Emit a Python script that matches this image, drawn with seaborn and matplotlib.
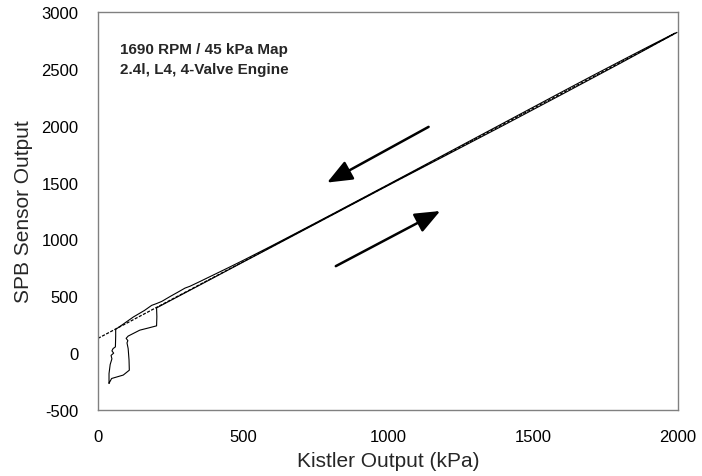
import matplotlib
matplotlib.use("Agg")
import matplotlib.pyplot as plt
import seaborn as sns
import pandas as pd

# Pressure trace: SPB sensor output vs. Kistler reference pressure (kPa)
# Compression stroke, starting at the bottom of the low-pressure loop
comp_kpa = [38, 47, 87, 108, 107, 104, 100, 103, 97, 104, 144, 175, 202, 203, 202,
            300, 400, 500, 600, 700, 800, 900, 1000, 1100, 1200, 1300, 1400, 1500,
            1600, 1700, 1800, 1900, 1990]
comp_spb = [-265, -223, -193, -150, -60, 40, 90, 110, 130, 150, 202, 222, 240, 320, 398,
            530, 665, 800, 934, 1069, 1204, 1339, 1474, 1607, 1740, 1873, 2006, 2141,
            2276, 2412, 2548, 2686, 2812]

# Expansion stroke, back down to the loop
exp_kpa = [1990, 1900, 1800, 1700, 1600, 1500, 1400, 1300, 1200, 1100, 1000, 900, 800,
           700, 600, 550, 500, 450, 400, 350, 317, 300, 276, 250, 220, 202, 185, 160,
           122, 87, 70, 61, 61, 60, 52, 48, 54, 45, 48, 42, 38, 38]
exp_spb = [2815, 2698, 2566, 2433, 2298, 2162, 2026, 1890, 1754, 1618, 1482, 1347, 1212,
           1078, 945, 880, 815, 752, 690, 628, 588, 572, 537, 500, 455, 436, 420, 375,
           318, 255, 225, 210, 150, 55, 40, 20, 0, -20, -50, -100, -180, -265]

# Linear trend line end points
trend_kpa = [0, 2000]
trend_spb = [130, 2825]

# Direction arrows: (tail, head)
arrow_down = ((1140, 1990), (790, 1500))
arrow_up = ((820, 765), (1180, 1250))

info_lines = ["1690 RPM / 45 kPa Map", "2.4l, L4, 4-Valve Engine"]
x_ticks = [0, 500, 1000, 1500, 2000]
y_ticks = [-500, 0, 500, 1000, 1500, 2000, 2500, 3000]

sns.set_style("white")
plt.rcParams["font.family"] = ["Liberation Sans", "DejaVu Sans"]
plt.rcParams["axes.unicode_minus"] = False

fig = plt.figure(figsize=(7.02, 4.77), dpi=100)
ax = fig.add_axes([0.1396, 0.1384, 0.8262, 0.8343])

trace = pd.DataFrame({
    "kpa": comp_kpa + exp_kpa,
    "spb": comp_spb + exp_spb,
})
sns.lineplot(data=trace, x="kpa", y="spb", sort=False, estimator=None,
             color="black", linewidth=0.8, ax=ax)
sns.lineplot(x=trend_kpa, y=trend_spb, color="black", linewidth=0.9,
             linestyle=(0, (2.5, 1.2)), ax=ax)

for (tail, head) in (arrow_down, arrow_up):
    ax.annotate("", xy=head, xytext=tail,
                arrowprops=dict(arrowstyle="-|>,head_length=1.1,head_width=0.45",
                                color="black", lw=1.8, shrinkA=0, shrinkB=0,
                                mutation_scale=14))

ax.text(0.038, 0.908, info_lines[0], transform=ax.transAxes, fontsize=11,
        fontweight="bold", va="center", ha="left")
ax.text(0.038, 0.858, info_lines[1], transform=ax.transAxes, fontsize=11,
        fontweight="bold", va="center", ha="left")

ax.set_xlim(0, 2000)
ax.set_ylim(-500, 3000)
ax.set_xticks(x_ticks)
ax.set_yticks(y_ticks)
ax.set_xlabel("Kistler Output (kPa)", fontsize=15, va="center", ha="center")
ax.set_ylabel("SPB Sensor Output", fontsize=15, va="center", ha="center")
ax.xaxis.set_label_coords(0.501, -0.127)
ax.yaxis.set_label_coords(-0.129, 0.5)
ax.tick_params(axis="both", labelsize=12, colors="black")
ax.tick_params(axis="x", direction="in", length=5, width=0.8, color="#808080", pad=14)
ax.tick_params(axis="y", direction="out", length=5, width=0.8, color="#808080", pad=9)
for side in ax.spines.values():
    side.set_color("#808080")
    side.set_linewidth(1.0)
    side.set_visible(True)

fig.savefig("out.png", dpi=100, facecolor="white")
